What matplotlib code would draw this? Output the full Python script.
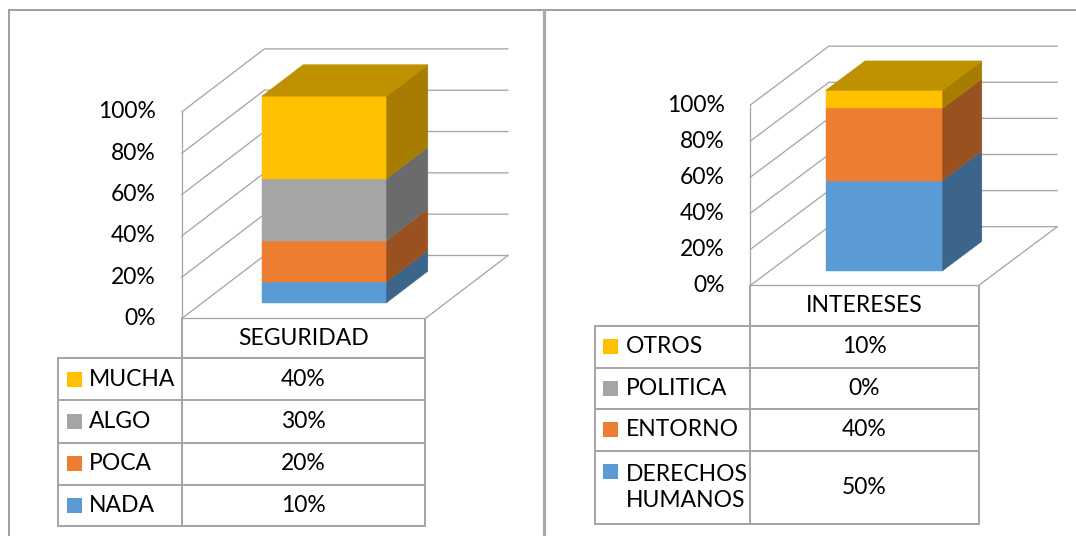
import numpy as np
import matplotlib.pyplot as plt
from matplotlib.patches import Polygon, Rectangle
from matplotlib.lines import Line2D
from matplotlib.colors import to_rgb

plt.rcParams['font.family'] = ['Lato', 'DejaVu Sans']

# datos
colors = ['#5B9BD5', '#ED7D31', '#A5A5A5', '#FFC000']
yticks = [0, 20, 40, 60, 80, 100]

seg_cat = 'SEGURIDAD'
seg_names = ['NADA', 'POCA', 'ALGO', 'MUCHA']
seg_vals = [10, 20, 30, 40]

int_cat = 'INTERESES'
int_names = ['DERECHOS\nHUMANOS', 'ENTORNO', 'POLITICA', 'OTROS']
int_vals = [50, 40, 0, 10]

W, H = 1076, 536
GRID = '#A6A6A6'
FS = 16.5

# geometria de cada panel en pixeles (origen = esquina frontal izquierda del piso)
geo_left = dict(span=(0, 543), x0=181.8, y0=318.5, fw=243.5, fh=206.6, ddx=82.6, ddy=63.0,
                tick_x=155.6, tab_x=58.2, rows=[358, 400, 442.5, 484.5, 526],
                mark_x=67, text_x=88.8)
geo_right = dict(span=(543, 1076), x0=750.3, y0=285.5, fw=228.3, fh=180.5, ddx=78.6, ddy=58.8,
                 tick_x=724.6, tab_x=594.7, rows=[325.5, 367.5, 409.2, 450.6, 524.1],
                 mark_x=603.2, text_x=625.5)


def shade(c, f):
    r, g, b = to_rgb(c)
    return (r * f, g * f, b * f)


fig = plt.figure(figsize=(W / 100, H / 100), dpi=100)


def panel(g, cat, names, vals):
    a, b = g['span']
    x0, y0, fw, fh = g['x0'], g['y0'], g['fw'], g['fh']
    ax = fig.add_axes([a / W, 0, (b - a) / W, 1])
    ax.set_xlim((a - x0) / fw, (b - x0) / fw)
    ax.set_ylim((y0 - H) / fh * 100, y0 / fh * 100)
    ax.axis('off')
    px2x = lambda p: (p - x0) / fw
    py2y = lambda p: (y0 - p) / fh * 100
    DX, DY = g['ddx'] / fw, g['ddy'] / fh * 100
    lw = 1.3 * 72 / 100

    # paredes y lineas de division
    ax.plot([0, 0], [0, 100], color=GRID, lw=lw)
    for t in yticks:
        ax.plot([0, DX, 1 + DX], [t, t + DY, t + DY], color=GRID, lw=lw, zorder=1)
        ax.text(px2x(g['tick_x']), t, f'{t}%', ha='right', va='center', fontsize=FS)
    ax.plot([0, 1, 1 + DX], [0, 0, DY], color=GRID, lw=lw, zorder=1)

    # barra 3D apilada
    bx0, bx1 = 0.244, 0.756
    f, k = 0.25, 0.75
    bottom = 0
    top_i = max(i for i, v in enumerate(vals) if v > 0)
    for i, v in enumerate(vals):
        if v <= 0:
            continue
        t = bottom + v
        c = colors[i]
        ax.add_patch(Rectangle((bx0 + f * DX, bottom + f * DY), bx1 - bx0, v,
                               facecolor=c, edgecolor=c, lw=0.3, zorder=3))
        ax.add_patch(Polygon([(bx1 + f * DX, bottom + f * DY), (bx1 + k * DX, bottom + k * DY),
                              (bx1 + k * DX, t + k * DY), (bx1 + f * DX, t + f * DY)],
                             facecolor=shade(c, 0.65), edgecolor=shade(c, 0.65), lw=0.3, zorder=3))
        if i == top_i:
            ax.add_patch(Polygon([(bx0 + f * DX, t + f * DY), (bx1 + f * DX, t + f * DY),
                                  (bx1 + k * DX, t + k * DY), (bx0 + k * DX, t + k * DY)],
                                 facecolor=shade(c, 0.75), edgecolor=shade(c, 0.75), lw=0.3, zorder=3))
        bottom = t

    # tabla de datos
    tl = 2.0 * 72 / 100
    rows = [py2y(r) for r in g['rows']]
    xl = px2x(g['tab_x'])
    ax.plot([0, 0, 1, 1], [0, rows[0], rows[0], 0], color=GRID, lw=tl)
    ax.text(0.5, (0 + rows[0]) / 2, cat, ha='center', va='center', fontsize=FS)
    ax.plot([xl, xl], [rows[0], rows[-1]], color=GRID, lw=tl)
    ax.plot([0, 0], [rows[0], rows[-1]], color=GRID, lw=tl)
    ax.plot([1, 1], [rows[0], rows[-1]], color=GRID, lw=tl)
    for r in rows:
        ax.plot([xl, 1], [r, r], color=GRID, lw=tl)
    msz_x, msz_y = 15 / fw, 15 / fh * 100
    line_h = 31.6 / fh * 100
    for j, i in enumerate(range(len(vals) - 1, -1, -1)):
        ytop, ybot = rows[j], rows[j + 1]
        yc = (ytop + ybot) / 2
        n = names[i].count('\n') + 1
        ym = yc + (n - 1) * line_h / 2
        ax.add_patch(Rectangle((px2x(g['mark_x']), ym - msz_y / 2), msz_x, msz_y,
                               facecolor=colors[i], edgecolor='none'))
        ax.text(px2x(g['text_x']), yc, names[i], ha='left', va='center', fontsize=FS,
                linespacing=1.33)
        ax.text(0.5, yc, f'{vals[i]}%', ha='center', va='center', fontsize=FS)


panel(geo_left, seg_cat, seg_names, seg_vals)
panel(geo_right, int_cat, int_names, int_vals)

# marcos
fl = 2.0 * 72 / 100
fig.add_artist(Line2D([8.6 / W, 1], [1 - 10.3 / H] * 2, color='#A0A0A0', lw=fl))
fig.add_artist(Line2D([8.6 / W] * 2, [0, 1 - 10.3 / H], color='#A0A0A0', lw=fl))
fig.add_artist(Line2D([544 / W] * 2, [0, 1 - 10.3 / H], color='#A8A8A8', lw=3.2 * 72 / 100))

fig.savefig('out.png', dpi=100)
